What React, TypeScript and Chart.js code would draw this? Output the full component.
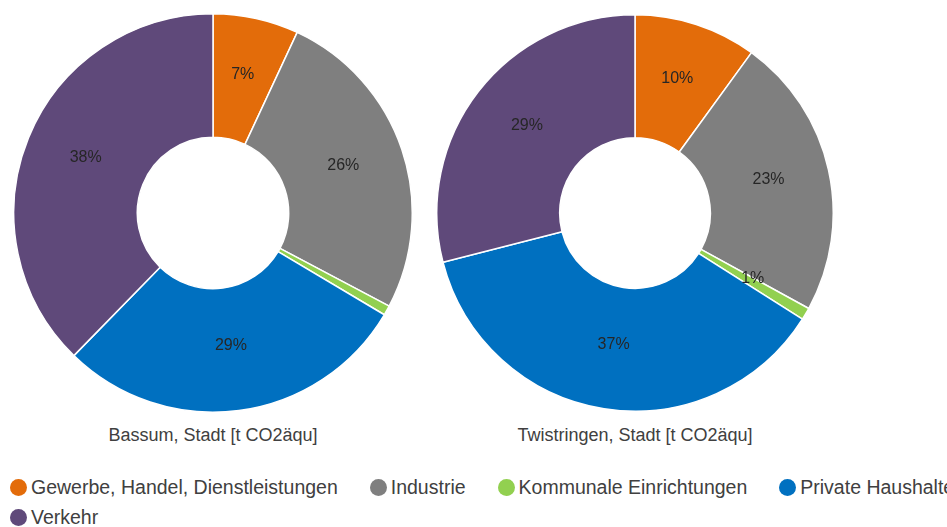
import React, { useEffect, useRef } from "react";
import { Chart, registerables } from "chart.js";

Chart.register(...registerables);

const categories = [
  "Gewerbe, Handel, Dienstleistungen",
  "Industrie",
  "Kommunale Einrichtungen",
  "Private Haushalte",
  "Verkehr",
];
const colors = ["#E36C0A", "#7F7F7F", "#92D050", "#0070C0", "#5F497A"];

const bassumTitle = "Bassum, Stadt [t CO2äqu]";
const bassumValues = [7, 26, 0.8, 29, 38];

const twistringenTitle = "Twistringen, Stadt [t CO2äqu]";
const twistringenValues = [10, 23, 1, 37, 29];

const FONT = '"Liberation Sans", Arial, sans-serif';

const pctLabels = {
  id: "pctLabels",
  afterDatasetsDraw(chart: any) {
    const ctx = chart.ctx;
    const ds = chart.data.datasets[0];
    const vals: number[] = ds.data as number[];
    const sum = vals.reduce((a, b) => a + b, 0);
    const meta = chart.getDatasetMeta(0);
    ctx.save();
    ctx.font = `16px ${FONT}`;
    ctx.fillStyle = "#262626";
    ctx.textAlign = "center";
    ctx.textBaseline = "middle";
    meta.data.forEach((arc: any, i: number) => {
      const pct = (vals[i] / sum) * 100;
      if (pct < 1) return;
      const p = arc.tooltipPosition();
      ctx.fillText(Math.round(pct) + "%", p.x, p.y - 4);
    });
    ctx.restore();
  },
};

function Doughnut({ values, left, top, size, title }: { values: number[]; left: number; top: number; size: number; title: string }) {
  const ref = useRef<HTMLCanvasElement | null>(null);
  useEffect(() => {
    if (!ref.current) return;
    const chart = new Chart(ref.current, {
      type: "doughnut",
      data: {
        labels: categories,
        datasets: [
          {
            data: values,
            backgroundColor: colors,
            borderColor: "#ffffff",
            borderWidth: 1.5,
          },
        ],
      },
      options: {
        responsive: false,
        animation: false,
        cutout: "38%",
        layout: { padding: 0 },
        plugins: { legend: { display: false }, tooltip: { enabled: false } },
      },
      plugins: [pctLabels],
    });
    return () => chart.destroy();
  }, [values]);
  return (
    <>
      <canvas ref={ref} width={size} height={size} style={{ position: "absolute", left, top, width: size, height: size }} />
      <div
        style={{
          position: "absolute",
          left: left + size / 2 - 200,
          width: 400,
          top: 425,
          textAlign: "center",
          font: `18px ${FONT}`,
          color: "#404040",
          whiteSpace: "nowrap",
        }}
      >
        {title}
      </div>
    </>
  );
}

function LegendItem({ label, color }: { label: string; color: string }) {
  return (
    <div style={{ display: "flex", alignItems: "center", whiteSpace: "nowrap", marginRight: 32, flexShrink: 0 }}>
      <span style={{ width: 17, height: 17, borderRadius: "50%", background: color, marginRight: 4, display: "inline-block" }} />
      <span style={{ font: `19.5px ${FONT}`, color: "#404040" }}>{label}</span>
    </div>
  );
}

export default function App() {
  useEffect(() => {
    document.body.style.margin = "0";
  }, []);
  return (
    <div style={{ position: "fixed", left: 0, top: 0, width: 947, height: 527, overflow: "hidden", background: "#fff" }}>
      <Doughnut values={bassumValues} left={13} top={13} size={400} title={bassumTitle} />
      <Doughnut values={twistringenValues} left={436} top={14} size={398} title={twistringenTitle} />
      <div style={{ position: "absolute", left: 10, top: 476, display: "flex", flexWrap: "nowrap" }}>
        {categories.slice(0, 4).map((c, i) => (
          <LegendItem key={c} label={c} color={colors[i]} />
        ))}
      </div>
      <div style={{ position: "absolute", left: 10, top: 506, display: "flex" }}>
        {categories.slice(4).map((c, i) => (
          <LegendItem key={c} label={c} color={colors[i + 4]} />
        ))}
      </div>
    </div>
  );
}
